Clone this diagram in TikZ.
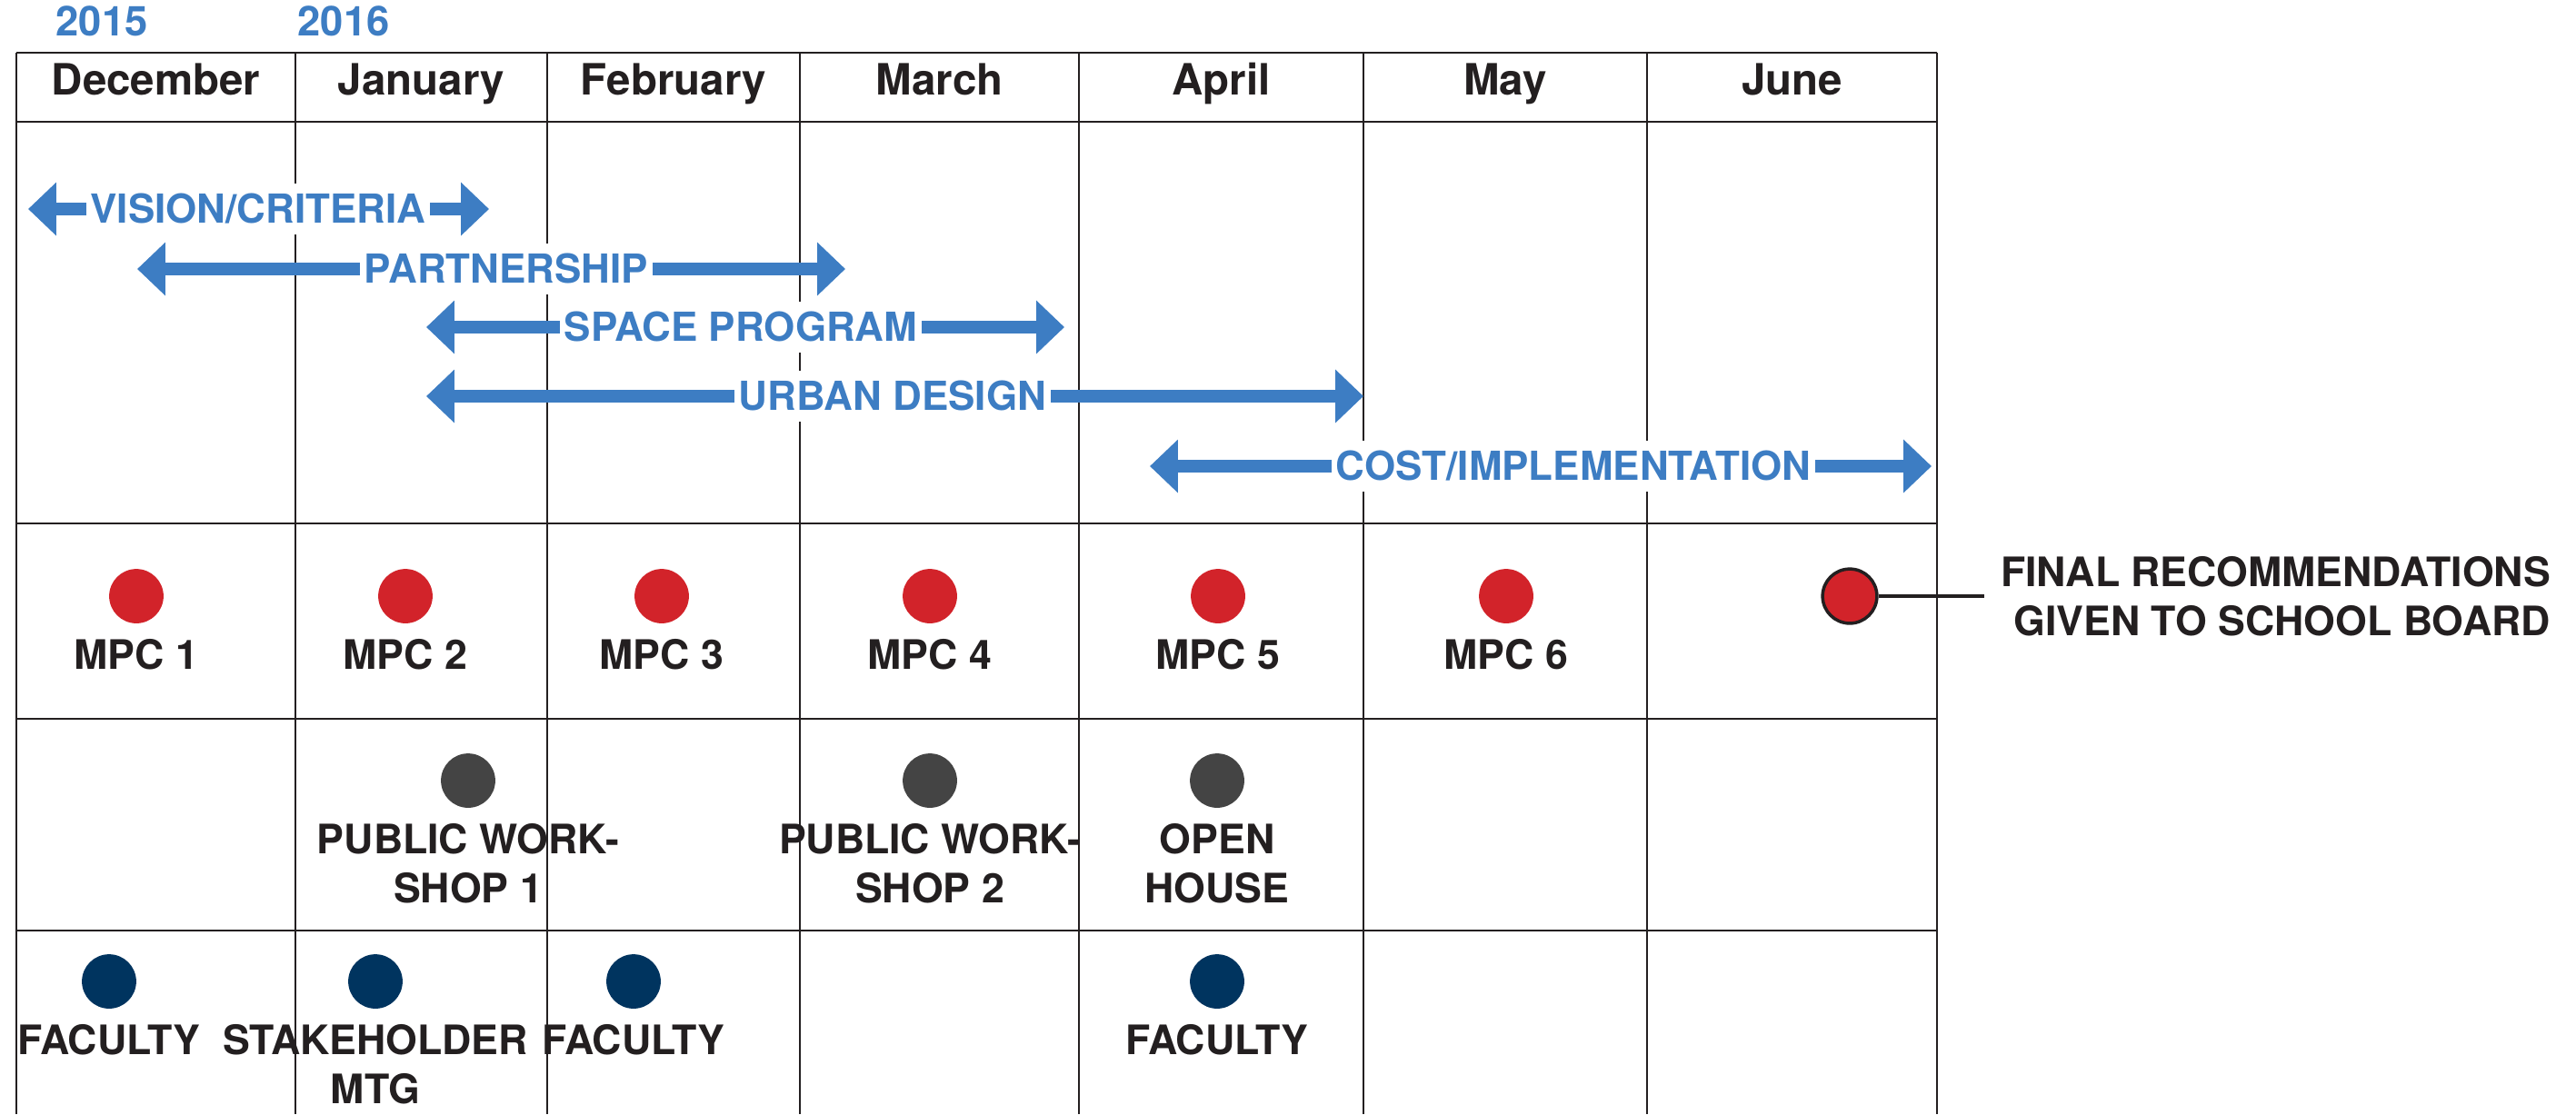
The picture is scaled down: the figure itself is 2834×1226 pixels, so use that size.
\documentclass[tikz,border=0pt]{standalone}
\usepackage{fontspec}
\setmainfont{TeX Gyre Heros}
\usetikzlibrary{positioning, arrows.meta}
\definecolor{planblue}{HTML}{3D7DC3}
\definecolor{mpcred}{HTML}{D2232A}
\definecolor{eventgray}{HTML}{444444}
\definecolor{facnavy}{HTML}{00345F}
\definecolor{ink}{HTML}{231F20}
\tikzset{
	x=0.01cm, y=-0.01cm, % une unité = un pixel de la maquette
	rule/.style={draw=ink, line width=0.75pt}, % traits du tableau
	month/.style={font=\fontsize{13.5}{16}\selectfont\bfseries, text=ink, anchor=base, inner sep=0pt},
	year/.style={font=\fontsize{12.9}{15}\selectfont\bfseries, text=planblue, anchor=base, inner sep=0pt},
	phasebar/.style={draw=planblue, line width=4pt, {Triangle[length=8.8pt,width=16.2pt]}-{Triangle[length=8.8pt,width=16.2pt]}}, % flèches des phases
	phasetag/.style={fill=white, text=planblue, font=\fontsize{12.5}{15}\selectfont\bfseries, inner xsep=1.4pt, inner ysep=0pt, text height=9pt, text depth=0pt, minimum height=16pt},
	dot/.style={circle, minimum size=17pt, inner sep=0pt},
	reddot/.style={dot, fill=mpcred},
	graydot/.style={dot, fill=eventgray},
	navydot/.style={dot, fill=facnavy},
	tag/.style={font=\fontsize{12.7}{15.4}\selectfont\bfseries, text=ink, align=center, inner sep=0pt},
}
\begin{document}
\begin{tikzpicture}[node distance=4.6pt]
			\useasboundingbox (0,0) rectangle (2834,1226);
			% Tableau
			\draw[rule] (18,58) -- (2131,58) (18,134) -- (2131,134) (18,576) -- (2131,576)
				(18,791) -- (2131,791) (18,1024) -- (2131,1024);
			\draw[rule] (18,58) -- (18,1226) (325,58) -- (325,1226) (602,58) -- (602,1226)
				(880,58) -- (880,1226) (1187,58) -- (1187,1226) (1500,58) -- (1500,1226)
				(1812,58) -- (1812,1226) (2131,58) -- (2131,1226);
			
			% Années et mois
			\node[year] (y15) at (112,39) {2015};
			\node[year] (y16) at (378,39) {2016};
			\node[month] (dec) at (171.5,104) {December};
			\node[month] (jan) at (463.5,104) {January};
			\node[month] (feb) at (741,104) {February};
			\node[month] (mar) at (1033.5,104) {March};
			\node[month] (apr) at (1343.5,104) {April};
			\node[month] (may) at (1656,104) {May};
			\node[month] (jun) at (1971.5,104) {June};
			
			% Phases
			\coordinate (visA) at (31,230);   \coordinate (visB) at (538,230);
			\coordinate (partA) at (151,296); \coordinate (partB) at (930,296);
			\coordinate (spaceA) at (469,360); \coordinate (spaceB) at (1171,360);
			\coordinate (urbA) at (469,436);  \coordinate (urbB) at (1500,436);
			\coordinate (costA) at (1265,513); \coordinate (costB) at (2125,513);
			\draw[phasebar] (visA) -- (visB);
			\draw[phasebar] (partA) -- (partB);
			\draw[phasebar] (spaceA) -- (spaceB);
			\draw[phasebar] (urbA) -- (urbB);
			\draw[phasebar] (costA) -- (costB);
			\node[phasetag] (vis) at (284,230) {VISION/CRITERIA};
			\node[phasetag] (part) at (557,296) {PARTNERSHIP};
			\node[phasetag] (space) at (815,360) {SPACE PROGRAM};
			\node[phasetag] (urb) at (982,436) {URBAN DESIGN};
			\node[phasetag] (cost) at (1731,513) {COST/IMPLEMENTATION};
			
			% Réunions MPC
			\node[reddot] (mpc1) at (150,656) {};
			\node[reddot] (mpc2) at (446,656) {};
			\node[reddot] (mpc3) at (728,656) {};
			\node[reddot] (mpc4) at (1023,656) {};
			\node[reddot] (mpc5) at (1340,656) {};
			\node[reddot] (mpc6) at (1657,656) {};
			\node[reddot, draw=ink, line width=1pt] (final) at (2035,656) {};
			\node[tag, below=of mpc1] (mpc1t) {MPC 1};
			\node[tag, below=of mpc2] (mpc2t) {MPC 2};
			\node[tag, below=of mpc3] (mpc3t) {MPC 3};
			\node[tag, below=of mpc4] (mpc4t) {MPC 4};
			\node[tag, below=of mpc5] (mpc5t) {MPC 5};
			\node[tag, below=of mpc6] (mpc6t) {MPC 6};
			\node[tag, align=right, right=38pt of final] (rec) {FINAL RECOMMENDATIONS\\GIVEN TO SCHOOL BOARD};
			\draw[ink, line width=1pt] (final) -- ([xshift=-5pt]rec.west); % renvoi
			
			% Événements publics
			\node[graydot] (pw1) at (515,859) {};
			\node[graydot] (pw2) at (1023,859) {};
			\node[graydot] (open) at (1339,859) {};
			\node[tag, below=of pw1] (pw1t) {PUBLIC WORK-\\SHOP 1};
			\node[tag, below=of pw2] (pw2t) {PUBLIC WORK-\\SHOP 2};
			\node[tag, below=of open] (opent) {OPEN\\HOUSE};
			
			% Faculté et partenaires
			\node[navydot] (fac1) at (120,1080) {};
			\node[navydot] (stake) at (413,1080) {};
			\node[navydot] (fac2) at (697,1080) {};
			\node[navydot] (fac3) at (1339,1080) {};
			\node[tag, below=of fac1] (fac1t) {FACULTY};
			\node[tag, below=of stake] (staket) {STAKEHOLDER\\MTG};
			\node[tag, below=of fac2] (fac2t) {FACULTY};
			\node[tag, below=of fac3] (fac3t) {FACULTY};
		\end{tikzpicture}
\end{document}
